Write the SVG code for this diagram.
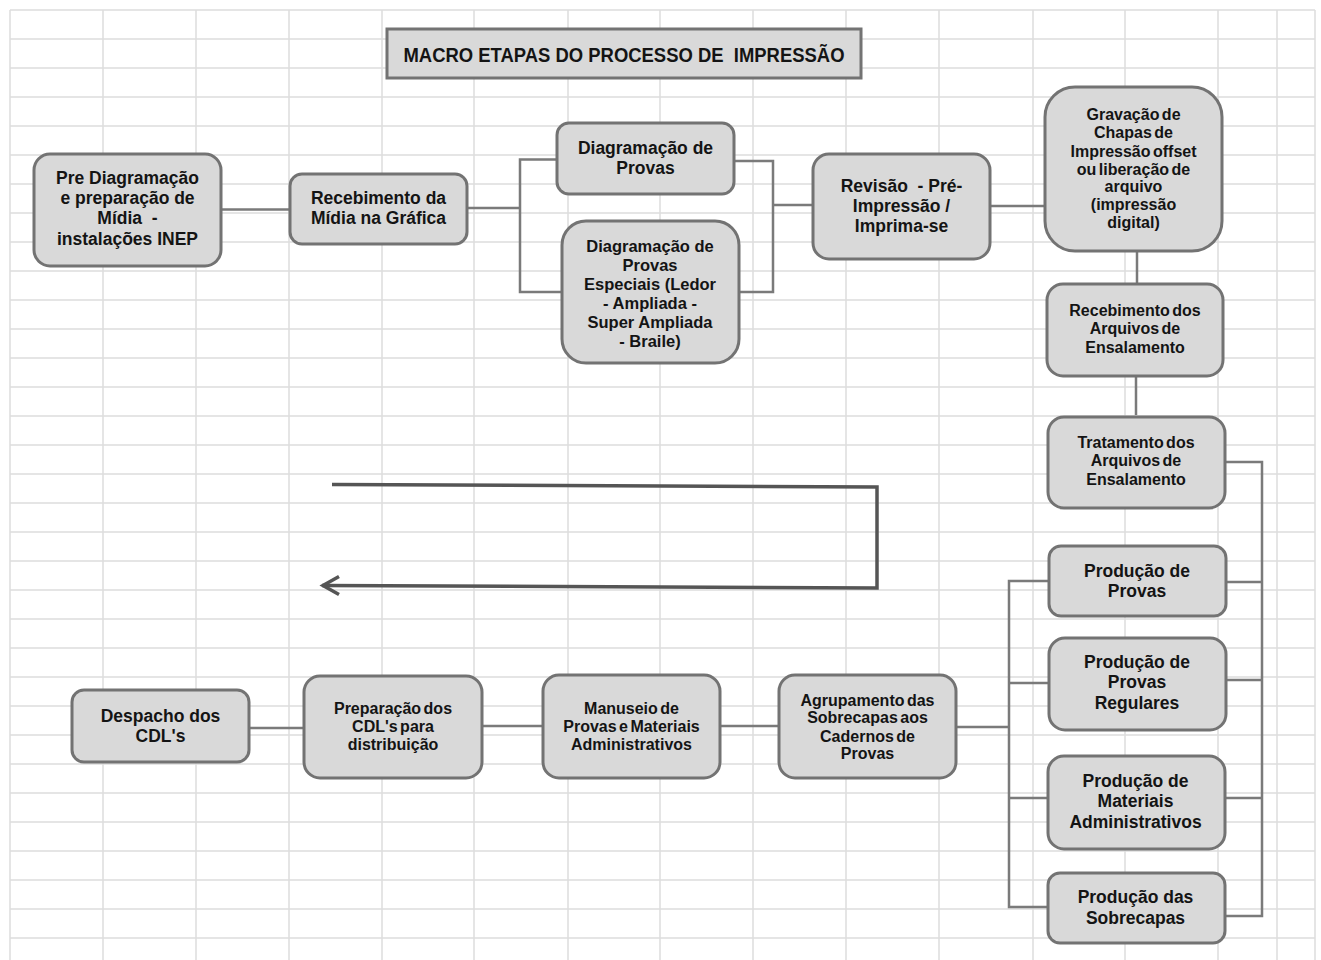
<svg xmlns="http://www.w3.org/2000/svg" width="1321" height="960" viewBox="0 0 1321 960">
<style>
.grid line{stroke:#dcdcdc;stroke-width:1.5}
.node rect{fill:#d9d9d9;stroke:#737373;stroke-width:3}
.node text{font-family:"Liberation Sans",Arial,sans-serif;font-weight:bold;fill:#141414;text-anchor:middle;white-space:pre}
.big text{font-size:17.5px}
.mid text{font-size:16.5px}
.sm text{font-size:16px;word-spacing:-2px}
.conn path{fill:none;stroke:#7a7a7a;stroke-width:2.5}
.conn path.loop{fill:none;stroke:#555555;stroke-width:3.5;stroke-linejoin:miter}
</style>
<rect x="0" y="0" width="1321" height="960" fill="#ffffff"/>
<g class="grid">
<line x1="10" y1="10" x2="10" y2="960"/><line x1="103" y1="10" x2="103" y2="960"/><line x1="196" y1="10" x2="196" y2="960"/><line x1="289" y1="10" x2="289" y2="960"/><line x1="382" y1="10" x2="382" y2="960"/><line x1="474" y1="10" x2="474" y2="960"/><line x1="568" y1="10" x2="568" y2="960"/><line x1="660" y1="10" x2="660" y2="960"/><line x1="753" y1="10" x2="753" y2="960"/><line x1="846" y1="10" x2="846" y2="960"/><line x1="939" y1="10" x2="939" y2="960"/><line x1="1033" y1="10" x2="1033" y2="960"/><line x1="1125" y1="10" x2="1125" y2="960"/><line x1="1218" y1="10" x2="1218" y2="960"/><line x1="1277" y1="10" x2="1277" y2="960"/><line x1="1315" y1="10" x2="1315" y2="960"/>
<line x1="10" y1="10" x2="1315" y2="10"/><line x1="10" y1="39" x2="1315" y2="39"/><line x1="10" y1="68" x2="1315" y2="68"/><line x1="10" y1="97" x2="1315" y2="97"/><line x1="10" y1="126" x2="1315" y2="126"/><line x1="10" y1="155" x2="1315" y2="155"/><line x1="10" y1="184" x2="1315" y2="184"/><line x1="10" y1="213" x2="1315" y2="213"/><line x1="10" y1="242" x2="1315" y2="242"/><line x1="10" y1="271" x2="1315" y2="271"/><line x1="10" y1="300" x2="1315" y2="300"/><line x1="10" y1="329" x2="1315" y2="329"/><line x1="10" y1="358" x2="1315" y2="358"/><line x1="10" y1="387" x2="1315" y2="387"/><line x1="10" y1="416" x2="1315" y2="416"/><line x1="10" y1="445" x2="1315" y2="445"/><line x1="10" y1="474" x2="1315" y2="474"/><line x1="10" y1="503" x2="1315" y2="503"/><line x1="10" y1="532" x2="1315" y2="532"/><line x1="10" y1="561" x2="1315" y2="561"/><line x1="10" y1="590" x2="1315" y2="590"/><line x1="10" y1="619" x2="1315" y2="619"/><line x1="10" y1="648" x2="1315" y2="648"/><line x1="10" y1="677" x2="1315" y2="677"/><line x1="10" y1="706" x2="1315" y2="706"/><line x1="10" y1="735" x2="1315" y2="735"/><line x1="10" y1="764" x2="1315" y2="764"/><line x1="10" y1="793" x2="1315" y2="793"/><line x1="10" y1="822" x2="1315" y2="822"/><line x1="10" y1="851" x2="1315" y2="851"/><line x1="10" y1="880" x2="1315" y2="880"/><line x1="10" y1="909" x2="1315" y2="909"/><line x1="10" y1="938" x2="1315" y2="938"/>
</g>
<g id="connectors" class="conn">
<path d="M222 209.5H289"/>
<path d="M468 208H520"/>
<path d="M556 159.5H520V292H561"/>
<path d="M735 161H773V292H740"/>
<path d="M773 205H812"/>
<path d="M991 206H1044"/>
<path d="M1137 252V284"/>
<path d="M1136 377V415"/>
<path d="M1226 462H1262V916H1226"/>
<path d="M1227 582H1262"/>
<path d="M1227 680H1262"/>
<path d="M1226 798H1262"/>
<path d="M1048 581H1009V907H1047"/>
<path d="M1009 683H1048"/>
<path d="M1009 798H1047"/>
<path d="M957 727H1009"/>
<path d="M778 726H721"/>
<path d="M542 726H483"/>
<path d="M303 728H250"/>
<path class="loop" d="M332 484.5L877 487V588L322 585.5"/>
<path class="loop" d="M339 576.5L323 585.5L339 594.5"/>
</g>
<g id="title" class="node">
<rect x="387" y="29" width="474" height="49" rx="0"/>
<text x="624" y="62" style="font-size:21px" textLength="441" lengthAdjust="spacingAndGlyphs">MACRO ETAPAS DO PROCESSO DE  IMPRESSÃO</text>
</g>
<g id="n1" class="node big">
<rect x="34" y="154" width="187" height="112" rx="16"/>
<text x="127.5" y="184">Pre Diagramação</text><text x="127.5" y="204">e preparação de</text><text x="127.5" y="224">Mídia  -</text><text x="127.5" y="245">instalações INEP</text>
</g>
<g id="n2" class="node big">
<rect x="290" y="174" width="177" height="70" rx="12"/>
<text x="378.5" y="204">Recebimento da</text><text x="378.5" y="224">Mídia na Gráfica</text>
</g>
<g id="n3" class="node big">
<rect x="557" y="123" width="177" height="71" rx="12"/>
<text x="645.5" y="154">Diagramação de</text><text x="645.5" y="174">Provas</text>
</g>
<g id="n4" class="node mid">
<rect x="562" y="221" width="177" height="142" rx="24"/>
<text x="650" y="252">Diagramação de</text><text x="650" y="271">Provas</text><text x="650" y="290">Especiais (Ledor</text><text x="650" y="309">- Ampliada -</text><text x="650" y="328">Super Ampliada</text><text x="650" y="347">- Braile)</text>
</g>
<g id="n5" class="node big">
<rect x="813" y="154" width="177" height="105" rx="16"/>
<text x="901.5" y="192">Revisão  - Pré-</text><text x="901.5" y="212">Impressão /</text><text x="901.5" y="232">Imprima-se</text>
</g>
<g id="n6" class="node sm">
<rect x="1045" y="87" width="177" height="164" rx="30"/>
<text x="1133.5" y="120">Gravação de</text><text x="1133.5" y="138">Chapas de</text><text x="1133.5" y="157">Impressão offset</text><text x="1133.5" y="175">ou liberação de</text><text x="1133.5" y="192">arquivo</text><text x="1133.5" y="210">(impressão</text><text x="1133.5" y="228">digital)</text>
</g>
<g id="n7" class="node sm">
<rect x="1047" y="284" width="176" height="92" rx="16"/>
<text x="1135" y="316">Recebimento dos</text><text x="1135" y="334">Arquivos de</text><text x="1135" y="353">Ensalamento</text>
</g>
<g id="n8" class="node sm">
<rect x="1048" y="417" width="177" height="91" rx="16"/>
<text x="1136" y="448">Tratamento dos</text><text x="1136" y="466">Arquivos de</text><text x="1136" y="485">Ensalamento</text>
</g>
<g id="n9" class="node big">
<rect x="1049" y="546" width="177" height="70" rx="12"/>
<text x="1137" y="577">Produção de</text><text x="1137" y="597">Provas</text>
</g>
<g id="n10" class="node big">
<rect x="1049" y="638" width="177" height="92" rx="16"/>
<text x="1137" y="668">Produção de</text><text x="1137" y="688">Provas</text><text x="1137" y="709">Regulares</text>
</g>
<g id="n11" class="node big">
<rect x="1048" y="756" width="177" height="93" rx="16"/>
<text x="1135.5" y="787">Produção de</text><text x="1135.5" y="807">Materiais</text><text x="1135.5" y="828">Administrativos</text>
</g>
<g id="n12" class="node big">
<rect x="1048" y="873" width="177" height="70" rx="12"/>
<text x="1135.5" y="903">Produção das</text><text x="1135.5" y="924">Sobrecapas</text>
</g>
<g id="n13" class="node sm">
<rect x="779" y="675" width="177" height="103" rx="16"/>
<text x="867.5" y="706">Agrupamento das</text><text x="867.5" y="723">Sobrecapas aos</text><text x="867.5" y="742">Cadernos de</text><text x="867.5" y="759">Provas</text>
</g>
<g id="n14" class="node sm">
<rect x="543" y="675" width="177" height="103" rx="16"/>
<text x="631.5" y="714">Manuseio de</text><text x="631.5" y="732">Provas e Materiais</text><text x="631.5" y="750">Administrativos</text>
</g>
<g id="n15" class="node sm">
<rect x="304" y="676" width="178" height="102" rx="16"/>
<text x="393" y="714">Preparação dos</text><text x="393" y="732">CDL's para</text><text x="393" y="750">distribuição</text>
</g>
<g id="n16" class="node big">
<rect x="72" y="690" width="177" height="72" rx="12"/>
<text x="160.5" y="722">Despacho dos</text><text x="160.5" y="742">CDL's</text>
</g>
</svg>
